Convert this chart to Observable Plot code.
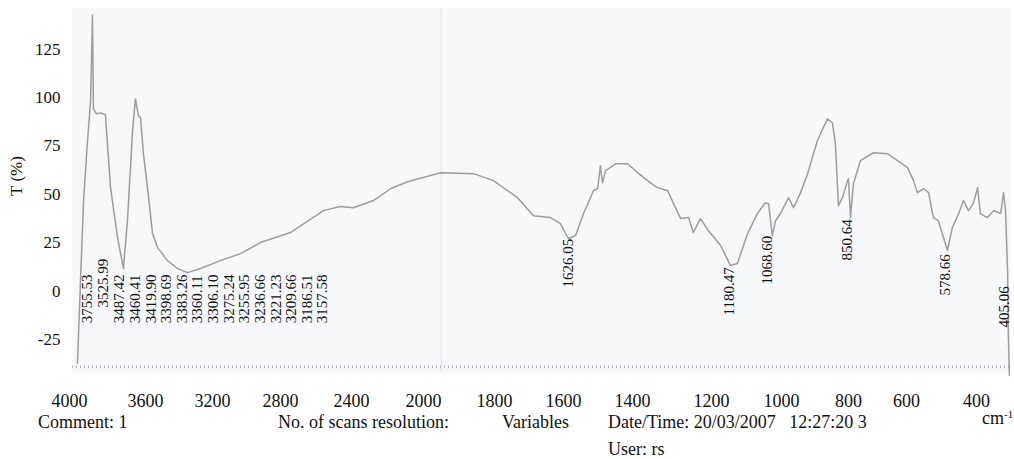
<!DOCTYPE html>
<html><head><meta charset="utf-8">
<script src="https://cdn.jsdelivr.net/npm/d3@7"></script>
<script src="https://cdn.jsdelivr.net/npm/@observablehq/plot@0.6"></script>
<style>
body{margin:0;background:#fff;font-family:'Liberation Serif','Times New Roman',serif;}
#wrap{position:relative;width:1014px;height:459px;overflow:hidden;}
#chart{position:absolute;left:0;top:0;}
#chart svg, #chart svg text{font-family:'Liberation Serif','Times New Roman',serif !important;}
.cap{position:absolute;font-size:18px;line-height:17px;white-space:pre;color:#111;}
#ylab{position:absolute;left:17px;top:176px;transform:translate(-50%,-50%) rotate(-90deg);font-size:17px;white-space:pre;color:#111;}
sup{font-size:11px;vertical-align:6px;line-height:0;}
</style></head><body>
<div id="wrap">
  <div id="chart"></div>
  <div id="ylab">T (%)</div>
  <div class="cap" style="left:38px;top:414px">Comment: 1</div>
  <div class="cap" style="left:278px;top:414px">No. of scans resolution:</div>
  <div class="cap" style="left:502px;top:414px">Variables</div>
  <div class="cap" style="left:608px;top:414px">Date/Time: 20/03/2007   12:27:20 3</div>
  <div class="cap" style="left:608px;top:441px">User: rs</div>
  <div class="cap" style="left:982px;top:410px">cm<sup>-1</sup></div>
</div>
<script>
// Spectrum (axis units: cm-1 as printed on the axis, transmittance %)
const wavenumber = [3958,3942,3926,3905,3889,3879,3874,3858,3837,3811,3784,3747,3716,3695,3668,3653,3637,3626,3611,3588,
  3558,3528,3469,3409,3349,3272,3153,3035,2918,2744,2558,2462,2389,2278,2183,2089,1952,1859,1803,1733,
  1687,1638,1609,1586,1565,1542,1513,1501,1493,1487,1478,1449,1414,1387,1362,1337,1311,1296,1278,1258,
  1246,1228,1208,1174,1146,1126,1097,1069,1046,1037,1026,1017,1003,979,964,943,922,893,863,848,
  839,830,818,803,800,793,783,759,714,666,631,597,580,569,551,537,523,509,483,469,
  451,437,423,409,397,389,369,351,331,323,317,311,309,306];
const transmittance = [-37.3,5.5,46.8,77.7,98.3,142.6,94.2,91.6,92.1,91.1,53.5,27.7,11.7,36.4,82.8,99.3,90.6,89.5,71.0,53.5,
  29.7,22.5,15.8,11.7,9.6,11.7,15.8,19.4,25.1,30.3,41.6,43.7,43.1,46.8,52.9,56.5,61.2,60.7,57.1,48.3,
  39.0,38.0,34.9,27.2,28.7,40.1,52.0,52.9,64.8,56.0,62.2,65.8,65.8,61.2,57.1,53.5,51.9,45.2,37.5,38.0,
  30.3,37.5,31.3,23.6,13.3,14.3,29.7,40.1,45.7,45.2,28.7,36.4,40.1,48.3,43.1,50.9,60.7,77.7,89.0,87.0,
  76.1,44.2,48.3,57.1,58.1,38.0,55.5,67.4,71.5,71.0,67.4,63.8,57.1,50.9,52.9,50.9,38.0,36.4,21.0,32.8,
  40.1,46.8,41.6,45.2,53.5,40.1,38.0,41.6,40.1,50.9,41.6,9.1,-21.8,-43.5];

// Peak annotations (text, where each label sits on the axes)
const peakText = ["3755.53","3525.99","3487.42","3460.41","3419.90","3398.69","3383.26","3360.11","3306.10","3275.24",
  "3255.95","3236.66","3221.23","3209.66","3186.51","3157.58","1626.05","1180.47","1068.60","850.64","578.66","405.06"];
const peakAtX = [3905,3821,3737,3653,3564,3475,3379,3290,3194,3100,3012,2918,2824,2738,2648,2563,1586,1149,1040,803,489,320];
const peakAtY = [-16.6,-8.4,-16.6,-16.6,-16.6,-16.6,-16.6,-16.6,-16.6,-16.6,-16.6,-16.6,-16.6,-16.6,-16.6,-16.6,1.9,-12.5,3.5,15.8,-2.2,-18.7];

const xTickValues = [4000,3600,3200,2800,2400,2000,1800,1600,1400,1200,1000,800,600,400];
const yTickValues = [-25,0,25,50,75,100,125];
const rulerLevel = [-39];
const scanFold = [1950];

const spectrum = wavenumber.map((w, i) => ({w, t: transmittance[i]}));
const peaks = peakText.map((label, i) => ({label, x: peakAtX[i], y: peakAtY[i]}));

// The printed wavenumber axis is not uniform: warp it piecewise onto the page
const warp = d3.scaleLinear()
  .domain(xTickValues)
  .range([69,145,212,280,351,423,494,563,632,711,781,848,906,976]);

const font = "'Liberation Serif', 'Times New Roman', serif";
const chart = Plot.plot({
  width: 1014,
  height: 410,
  marginLeft: 72,
  marginRight: 4,
  marginTop: 8,
  marginBottom: 38,
  style: {fontFamily: font, fontSize: "17px", color: "#111", background: "transparent"},
  x: {type: "linear", transform: d => warp(d), domain: [60, 1010], range: [60, 1010]},
  y: {domain: [-42, 146]},
  marks: [
    Plot.frame({fill: "#f7f8fa", stroke: null}),
    Plot.ruleX(scanFold, {stroke: "#dfe3e8", strokeWidth: 1}),
    Plot.ruleY(rulerLevel, {stroke: "#b8bcc2", strokeWidth: 3, strokeDasharray: "1,3"}),
    Plot.line(spectrum, {x: "w", y: "t", stroke: "#9d9d9d", strokeWidth: 1.5, curve: "linear"}),
    Plot.text(peaks, {x: "x", y: "y", text: "label", rotate: -90, textAnchor: "start", fontSize: 15, fill: "#111", fontFamily: font}),
    Plot.axisX({ticks: xTickValues.map(v => warp(v)), tickSize: 0, tickPadding: 22,
      tickFormat: p => String(Math.round(warp.invert(p))), fontSize: 18, label: null}),
    Plot.axisY({ticks: yTickValues, tickSize: 0, tickPadding: 12, tickFormat: d => String(d), fontSize: 17, label: null})
  ]
});
document.getElementById("chart").appendChild(chart);
</script>
</body></html>
